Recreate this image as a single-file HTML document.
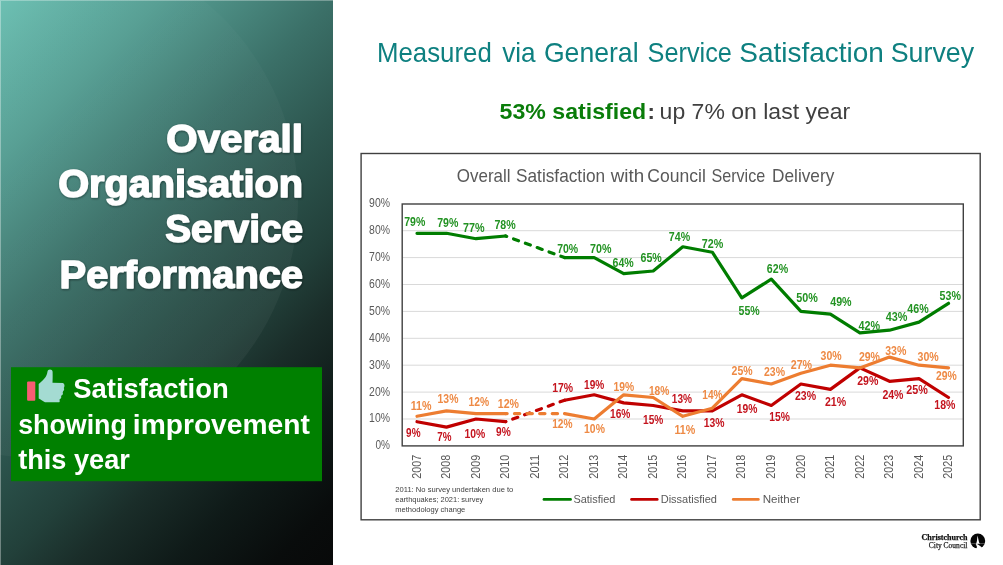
<!DOCTYPE html>
<html lang="en"><head><meta charset="utf-8"><title>Overall Organisation Service Performance</title>
<style>
html,body{margin:0;padding:0;background:#fff;}
body{width:1003px;height:565px;overflow:hidden;position:relative;font-family:"Liberation Sans",sans-serif;}
#panel{position:absolute;left:0;top:0;width:332.5px;height:565px;
 background:linear-gradient(135deg,#6dc0b3 0%,#569e93 18%,#3b7068 37%,#2d564f 50%,#22403a 63%,#1a2d29 71%,#0f1a18 82%,#090c0c 93%,#080909 100%);overflow:hidden;}
#panel .circ{position:absolute;left:-218px;top:-58px;width:516px;height:516px;border-radius:50%;background:linear-gradient(135deg,rgba(255,255,255,0) 25%,rgba(255,255,255,0.045) 85%);}
#panel .edge{position:absolute;left:0;top:0;right:0;bottom:0;border-left:1px solid rgba(255,255,255,.35);border-top:1px solid rgba(255,255,255,.3);}
svg{position:absolute;left:0;top:0;}
svg text{font-family:"Liberation Sans",sans-serif;}
.serif{font-family:"Liberation Serif",serif !important;}
</style></head><body>
<div id="panel"><div class="circ"></div><div class="edge"></div></div>
<svg width="1003" height="565" viewBox="0 0 1003 565">
<defs>
<filter id="sh" x="-10%" y="-20%" width="120%" height="150%"><feDropShadow dx="0.6" dy="0.9" stdDeviation="1.3" flood-color="#001511" flood-opacity="0.5"/></filter>
</defs>

<g filter="url(#sh)" fill="#fff" stroke="#fff" stroke-width="1.5" stroke-linejoin="round" font-weight="bold" font-size="39.0">
<text x="166.3" y="152.0" textLength="136.7" lengthAdjust="spacingAndGlyphs">Overall</text>
<text x="58.2" y="196.9" textLength="244.8" lengthAdjust="spacingAndGlyphs">Organisation</text>
<text x="165.2" y="242.2" textLength="137.8" lengthAdjust="spacingAndGlyphs">Service</text>
<text x="59.6" y="287.5" textLength="243.4" lengthAdjust="spacingAndGlyphs">Performance</text>
</g>
<rect x="11" y="367.2" width="311" height="114" fill="#008000"/>
<rect x="27.1" y="381.5" width="8.2" height="19.3" rx="1" fill="#f95c74"/>
<path d="M50 369.6 C48.6 369.6 47.7 370.4 47.5 371.6 C47.1 374 46.6 375.6 45.6 377 C44.2 379 42 381.4 38.7 384 L38.7 398.6 C40.6 399.6 42.6 401.2 45 402.3 L58.6 402.3 C59.6 402.3 60 401.4 59.6 400.4 L59.7 398.9 C61 398.6 61.6 397.6 61.1 396.4 L61.6 395.3 C62.8 394.8 63.3 393.6 62.7 392.4 L63.1 391.2 C64.2 390.4 64.5 389.2 63.8 388 C64.7 386.6 65 384.2 63 383 L52.5 382.8 C52.7 379.6 52.7 375.6 52.6 371.8 C52.5 370.4 51.4 369.6 50 369.6 Z" fill="#a4dbd2"/>
<g fill="#fff" font-weight="bold" font-size="26.8">
<text x="73.2" y="398.3" textLength="155.6" lengthAdjust="spacingAndGlyphs">Satisfaction</text>
<text x="18.2" y="434.0" textLength="108.6" lengthAdjust="spacingAndGlyphs">showing</text>
<text x="132.8" y="434.0" textLength="177.0" lengthAdjust="spacingAndGlyphs">improvement</text>
<text x="18.2" y="468.6" textLength="111.6" lengthAdjust="spacingAndGlyphs">this year</text>
</g>
<g font-size="27.2" fill="#0e8080">
<text x="377.0" y="62.4" textLength="114.8" lengthAdjust="spacingAndGlyphs">Measured</text>
<text x="502.2" y="62.4" textLength="33.4" lengthAdjust="spacingAndGlyphs">via</text>
<text x="543.9" y="62.4" textLength="94.7" lengthAdjust="spacingAndGlyphs">General</text>
<text x="647.6" y="62.4" textLength="84.3" lengthAdjust="spacingAndGlyphs">Service</text>
<text x="739.3" y="62.4" textLength="144.6" lengthAdjust="spacingAndGlyphs">Satisfaction</text>
<text x="890.7" y="62.4" textLength="83.4" lengthAdjust="spacingAndGlyphs">Survey</text>
</g>
<g font-size="22.8" fill="#404040">
<text x="499.6" y="119.4" font-weight="bold" fill="#0a7d0a" textLength="146.6" lengthAdjust="spacingAndGlyphs">53% satisfied</text>
<text x="647.4" y="119.4" font-weight="bold" textLength="7.4" lengthAdjust="spacingAndGlyphs">:</text>
<text x="659.6" y="119.4" textLength="190.6" lengthAdjust="spacingAndGlyphs">up 7% on last year</text>
</g>
<rect x="361.1" y="153.5" width="619.1" height="366.3" fill="#fff" stroke="#404040" stroke-width="1.4"/>
<g font-size="17.9" fill="#595959">
<text x="456.8" y="182.0" textLength="53.7" lengthAdjust="spacingAndGlyphs">Overall</text>
<text x="516.0" y="182.0" textLength="89.2" lengthAdjust="spacingAndGlyphs">Satisfaction</text>
<text x="610.7" y="182.0" textLength="33.4" lengthAdjust="spacingAndGlyphs">with</text>
<text x="647.3" y="182.0" textLength="58.5" lengthAdjust="spacingAndGlyphs">Council</text>
<text x="711.4" y="182.0" textLength="53.8" lengthAdjust="spacingAndGlyphs">Service</text>
<text x="772.1" y="182.0" textLength="62.2" lengthAdjust="spacingAndGlyphs">Delivery</text>
</g>
<line x1="402.2" y1="419.0" x2="963.3" y2="419.0" stroke="#d9d9d9" stroke-width="1"/>
<line x1="402.2" y1="392.1" x2="963.3" y2="392.1" stroke="#d9d9d9" stroke-width="1"/>
<line x1="402.2" y1="365.2" x2="963.3" y2="365.2" stroke="#d9d9d9" stroke-width="1"/>
<line x1="402.2" y1="338.3" x2="963.3" y2="338.3" stroke="#d9d9d9" stroke-width="1"/>
<line x1="402.2" y1="311.4" x2="963.3" y2="311.4" stroke="#d9d9d9" stroke-width="1"/>
<line x1="402.2" y1="284.5" x2="963.3" y2="284.5" stroke="#d9d9d9" stroke-width="1"/>
<line x1="402.2" y1="257.6" x2="963.3" y2="257.6" stroke="#d9d9d9" stroke-width="1"/>
<line x1="402.2" y1="230.7" x2="963.3" y2="230.7" stroke="#d9d9d9" stroke-width="1"/>
<text x="375.5" y="449.3" textLength="14.5" lengthAdjust="spacingAndGlyphs" font-size="11.9" fill="#595959">0%</text>
<text x="369.1" y="422.4" textLength="20.9" lengthAdjust="spacingAndGlyphs" font-size="11.9" fill="#595959">10%</text>
<text x="369.1" y="395.5" textLength="20.9" lengthAdjust="spacingAndGlyphs" font-size="11.9" fill="#595959">20%</text>
<text x="369.1" y="368.6" textLength="20.9" lengthAdjust="spacingAndGlyphs" font-size="11.9" fill="#595959">30%</text>
<text x="369.1" y="341.7" textLength="20.9" lengthAdjust="spacingAndGlyphs" font-size="11.9" fill="#595959">40%</text>
<text x="369.1" y="314.8" textLength="20.9" lengthAdjust="spacingAndGlyphs" font-size="11.9" fill="#595959">50%</text>
<text x="369.1" y="287.9" textLength="20.9" lengthAdjust="spacingAndGlyphs" font-size="11.9" fill="#595959">60%</text>
<text x="369.1" y="261.0" textLength="20.9" lengthAdjust="spacingAndGlyphs" font-size="11.9" fill="#595959">70%</text>
<text x="369.1" y="234.1" textLength="20.9" lengthAdjust="spacingAndGlyphs" font-size="11.9" fill="#595959">80%</text>
<text x="369.1" y="207.2" textLength="20.9" lengthAdjust="spacingAndGlyphs" font-size="11.9" fill="#595959">90%</text>
<polyline points="417.0,233.3 446.5,233.3 476.0,238.7 505.6,236.0" fill="none" stroke="#007d00" stroke-width="3.2" stroke-linecap="round" stroke-linejoin="round"/>
<line x1="505.6" y1="236.0" x2="564.6" y2="257.6" stroke="#007d00" stroke-width="3.2" stroke-linecap="round" stroke-dasharray="5.3 7.3" stroke-dashoffset="4.13"/>
<polyline points="564.6,257.6 594.2,257.6 623.7,273.7 653.2,271.0 682.8,246.8 712.3,252.2 741.8,297.9 771.3,279.1 800.9,311.4 830.4,314.1 859.9,332.9 889.5,330.2 919.0,322.1 948.5,303.3" fill="none" stroke="#007d00" stroke-width="3.2" stroke-linecap="round" stroke-linejoin="round"/>
<polyline points="417.0,421.7 446.5,427.1 476.0,419.0 505.6,421.7" fill="none" stroke="#c00000" stroke-width="3.2" stroke-linecap="round" stroke-linejoin="round"/>
<line x1="505.6" y1="421.7" x2="564.6" y2="400.2" stroke="#c00000" stroke-width="3.2" stroke-linecap="round" stroke-dasharray="5.3 7.3" stroke-dashoffset="4.98"/>
<polyline points="564.6,400.2 594.2,394.8 623.7,402.9 653.2,405.5 682.8,410.9 712.3,410.9 741.8,394.8 771.3,405.5 800.9,384.0 830.4,389.4 859.9,367.9 889.5,381.3 919.0,378.6 948.5,397.5" fill="none" stroke="#c00000" stroke-width="3.2" stroke-linecap="round" stroke-linejoin="round"/>
<polyline points="417.0,416.3 446.5,410.9 476.0,413.6 505.6,413.6" fill="none" stroke="#ed7d31" stroke-width="3.2" stroke-linecap="round" stroke-linejoin="round"/>
<line x1="505.6" y1="413.6" x2="564.6" y2="413.6" stroke="#ed7d31" stroke-width="3.2" stroke-linecap="round" stroke-dasharray="5.3 7.3" stroke-dashoffset="3.75"/>
<polyline points="564.6,413.6 594.2,419.0 623.7,394.8 653.2,397.5 682.8,416.3 712.3,408.2 741.8,378.6 771.3,384.0 800.9,373.3 830.4,365.2 859.9,367.9 889.5,357.1 919.0,365.2 948.5,367.9" fill="none" stroke="#ed7d31" stroke-width="3.2" stroke-linecap="round" stroke-linejoin="round"/>
<rect x="402.2" y="204.0" width="561.1" height="241.9" fill="none" stroke="#404040" stroke-width="1.4"/>
<text x="404.2" y="225.6" textLength="21.1" lengthAdjust="spacingAndGlyphs" font-size="12.0" font-weight="bold" fill="#239323">79%</text>
<text x="437.2" y="227.1" textLength="21.2" lengthAdjust="spacingAndGlyphs" font-size="12.0" font-weight="bold" fill="#239323">79%</text>
<text x="463.1" y="231.5" textLength="21.6" lengthAdjust="spacingAndGlyphs" font-size="12.0" font-weight="bold" fill="#239323">77%</text>
<text x="494.4" y="228.5" textLength="21.3" lengthAdjust="spacingAndGlyphs" font-size="12.0" font-weight="bold" fill="#239323">78%</text>
<text x="557.2" y="252.5" textLength="21.0" lengthAdjust="spacingAndGlyphs" font-size="12.0" font-weight="bold" fill="#239323">70%</text>
<text x="590.1" y="253.1" textLength="21.4" lengthAdjust="spacingAndGlyphs" font-size="12.0" font-weight="bold" fill="#239323">70%</text>
<text x="612.6" y="267.4" textLength="21.2" lengthAdjust="spacingAndGlyphs" font-size="12.0" font-weight="bold" fill="#239323">64%</text>
<text x="640.5" y="262.4" textLength="21.3" lengthAdjust="spacingAndGlyphs" font-size="12.0" font-weight="bold" fill="#239323">65%</text>
<text x="668.8" y="240.9" textLength="21.3" lengthAdjust="spacingAndGlyphs" font-size="12.0" font-weight="bold" fill="#239323">74%</text>
<text x="701.7" y="248.1" textLength="21.5" lengthAdjust="spacingAndGlyphs" font-size="12.0" font-weight="bold" fill="#239323">72%</text>
<text x="738.6" y="315.2" textLength="21.2" lengthAdjust="spacingAndGlyphs" font-size="12.0" font-weight="bold" fill="#239323">55%</text>
<text x="766.8" y="272.8" textLength="21.3" lengthAdjust="spacingAndGlyphs" font-size="12.0" font-weight="bold" fill="#239323">62%</text>
<text x="796.2" y="301.9" textLength="21.6" lengthAdjust="spacingAndGlyphs" font-size="12.0" font-weight="bold" fill="#239323">50%</text>
<text x="830.2" y="305.6" textLength="21.4" lengthAdjust="spacingAndGlyphs" font-size="12.0" font-weight="bold" fill="#239323">49%</text>
<text x="858.4" y="329.6" textLength="21.6" lengthAdjust="spacingAndGlyphs" font-size="12.0" font-weight="bold" fill="#239323">42%</text>
<text x="885.7" y="321.2" textLength="21.7" lengthAdjust="spacingAndGlyphs" font-size="12.0" font-weight="bold" fill="#239323">43%</text>
<text x="907.3" y="312.8" textLength="21.3" lengthAdjust="spacingAndGlyphs" font-size="12.0" font-weight="bold" fill="#239323">46%</text>
<text x="939.6" y="299.6" textLength="21.3" lengthAdjust="spacingAndGlyphs" font-size="12.0" font-weight="bold" fill="#239323">53%</text>
<text x="410.7" y="410.4" textLength="20.8" lengthAdjust="spacingAndGlyphs" font-size="12.0" font-weight="bold" fill="#ee8a45">11%</text>
<text x="437.6" y="403.4" textLength="20.8" lengthAdjust="spacingAndGlyphs" font-size="12.0" font-weight="bold" fill="#ee8a45">13%</text>
<text x="468.5" y="406.4" textLength="20.6" lengthAdjust="spacingAndGlyphs" font-size="12.0" font-weight="bold" fill="#ee8a45">12%</text>
<text x="497.8" y="408.4" textLength="21.2" lengthAdjust="spacingAndGlyphs" font-size="12.0" font-weight="bold" fill="#ee8a45">12%</text>
<text x="552.2" y="427.9" textLength="20.3" lengthAdjust="spacingAndGlyphs" font-size="12.0" font-weight="bold" fill="#ee8a45">12%</text>
<text x="584.1" y="433.4" textLength="20.8" lengthAdjust="spacingAndGlyphs" font-size="12.0" font-weight="bold" fill="#ee8a45">10%</text>
<text x="613.6" y="391.4" textLength="20.6" lengthAdjust="spacingAndGlyphs" font-size="12.0" font-weight="bold" fill="#ee8a45">19%</text>
<text x="648.9" y="394.9" textLength="20.4" lengthAdjust="spacingAndGlyphs" font-size="12.0" font-weight="bold" fill="#ee8a45">18%</text>
<text x="674.4" y="433.9" textLength="20.8" lengthAdjust="spacingAndGlyphs" font-size="12.0" font-weight="bold" fill="#ee8a45">11%</text>
<text x="702.3" y="399.4" textLength="20.2" lengthAdjust="spacingAndGlyphs" font-size="12.0" font-weight="bold" fill="#ee8a45">14%</text>
<text x="731.6" y="374.9" textLength="21.0" lengthAdjust="spacingAndGlyphs" font-size="12.0" font-weight="bold" fill="#ee8a45">25%</text>
<text x="764.0" y="375.9" textLength="21.0" lengthAdjust="spacingAndGlyphs" font-size="12.0" font-weight="bold" fill="#ee8a45">23%</text>
<text x="790.7" y="368.8" textLength="21.4" lengthAdjust="spacingAndGlyphs" font-size="12.0" font-weight="bold" fill="#ee8a45">27%</text>
<text x="820.6" y="360.4" textLength="21.1" lengthAdjust="spacingAndGlyphs" font-size="12.0" font-weight="bold" fill="#ee8a45">30%</text>
<text x="858.9" y="360.9" textLength="21.1" lengthAdjust="spacingAndGlyphs" font-size="12.0" font-weight="bold" fill="#ee8a45">29%</text>
<text x="885.2" y="354.9" textLength="21.2" lengthAdjust="spacingAndGlyphs" font-size="12.0" font-weight="bold" fill="#ee8a45">33%</text>
<text x="917.5" y="361.4" textLength="21.2" lengthAdjust="spacingAndGlyphs" font-size="12.0" font-weight="bold" fill="#ee8a45">30%</text>
<text x="936.0" y="380.1" textLength="20.8" lengthAdjust="spacingAndGlyphs" font-size="12.0" font-weight="bold" fill="#ee8a45">29%</text>
<text x="406.1" y="437.4" textLength="14.4" lengthAdjust="spacingAndGlyphs" font-size="12.0" font-weight="bold" fill="#c4141e">9%</text>
<text x="437.2" y="441.4" textLength="14.2" lengthAdjust="spacingAndGlyphs" font-size="12.0" font-weight="bold" fill="#c4141e">7%</text>
<text x="464.5" y="438.4" textLength="20.8" lengthAdjust="spacingAndGlyphs" font-size="12.0" font-weight="bold" fill="#c4141e">10%</text>
<text x="496.0" y="436.4" textLength="14.7" lengthAdjust="spacingAndGlyphs" font-size="12.0" font-weight="bold" fill="#c4141e">9%</text>
<text x="552.2" y="392.4" textLength="20.9" lengthAdjust="spacingAndGlyphs" font-size="12.0" font-weight="bold" fill="#c4141e">17%</text>
<text x="584.1" y="388.9" textLength="20.2" lengthAdjust="spacingAndGlyphs" font-size="12.0" font-weight="bold" fill="#c4141e">19%</text>
<text x="610.0" y="417.9" textLength="20.4" lengthAdjust="spacingAndGlyphs" font-size="12.0" font-weight="bold" fill="#c4141e">16%</text>
<text x="643.1" y="423.9" textLength="20.2" lengthAdjust="spacingAndGlyphs" font-size="12.0" font-weight="bold" fill="#c4141e">15%</text>
<text x="671.8" y="403.4" textLength="20.2" lengthAdjust="spacingAndGlyphs" font-size="12.0" font-weight="bold" fill="#c4141e">13%</text>
<text x="703.7" y="427.4" textLength="20.8" lengthAdjust="spacingAndGlyphs" font-size="12.0" font-weight="bold" fill="#c4141e">13%</text>
<text x="736.8" y="412.8" textLength="20.6" lengthAdjust="spacingAndGlyphs" font-size="12.0" font-weight="bold" fill="#c4141e">19%</text>
<text x="769.2" y="420.8" textLength="20.6" lengthAdjust="spacingAndGlyphs" font-size="12.0" font-weight="bold" fill="#c4141e">15%</text>
<text x="795.0" y="400.4" textLength="21.1" lengthAdjust="spacingAndGlyphs" font-size="12.0" font-weight="bold" fill="#c4141e">23%</text>
<text x="824.9" y="406.4" textLength="21.2" lengthAdjust="spacingAndGlyphs" font-size="12.0" font-weight="bold" fill="#c4141e">21%</text>
<text x="857.2" y="385.2" textLength="21.2" lengthAdjust="spacingAndGlyphs" font-size="12.0" font-weight="bold" fill="#c4141e">29%</text>
<text x="882.4" y="398.7" textLength="21.1" lengthAdjust="spacingAndGlyphs" font-size="12.0" font-weight="bold" fill="#c4141e">24%</text>
<text x="906.3" y="394.4" textLength="21.6" lengthAdjust="spacingAndGlyphs" font-size="12.0" font-weight="bold" fill="#c4141e">25%</text>
<text x="934.3" y="408.8" textLength="21.1" lengthAdjust="spacingAndGlyphs" font-size="12.0" font-weight="bold" fill="#c4141e">18%</text>
<text transform="translate(420.6,478.8) rotate(-90)" textLength="24.0" lengthAdjust="spacingAndGlyphs" font-size="13.0" fill="#595959">2007</text>
<text transform="translate(450.1,478.8) rotate(-90)" textLength="24.0" lengthAdjust="spacingAndGlyphs" font-size="13.0" fill="#595959">2008</text>
<text transform="translate(479.6,478.8) rotate(-90)" textLength="24.0" lengthAdjust="spacingAndGlyphs" font-size="13.0" fill="#595959">2009</text>
<text transform="translate(509.2,478.8) rotate(-90)" textLength="24.0" lengthAdjust="spacingAndGlyphs" font-size="13.0" fill="#595959">2010</text>
<text transform="translate(538.7,478.8) rotate(-90)" textLength="24.0" lengthAdjust="spacingAndGlyphs" font-size="13.0" fill="#595959">2011</text>
<text transform="translate(568.2,478.8) rotate(-90)" textLength="24.0" lengthAdjust="spacingAndGlyphs" font-size="13.0" fill="#595959">2012</text>
<text transform="translate(597.8,478.8) rotate(-90)" textLength="24.0" lengthAdjust="spacingAndGlyphs" font-size="13.0" fill="#595959">2013</text>
<text transform="translate(627.3,478.8) rotate(-90)" textLength="24.0" lengthAdjust="spacingAndGlyphs" font-size="13.0" fill="#595959">2014</text>
<text transform="translate(656.8,478.8) rotate(-90)" textLength="24.0" lengthAdjust="spacingAndGlyphs" font-size="13.0" fill="#595959">2015</text>
<text transform="translate(686.4,478.8) rotate(-90)" textLength="24.0" lengthAdjust="spacingAndGlyphs" font-size="13.0" fill="#595959">2016</text>
<text transform="translate(715.9,478.8) rotate(-90)" textLength="24.0" lengthAdjust="spacingAndGlyphs" font-size="13.0" fill="#595959">2017</text>
<text transform="translate(745.4,478.8) rotate(-90)" textLength="24.0" lengthAdjust="spacingAndGlyphs" font-size="13.0" fill="#595959">2018</text>
<text transform="translate(774.9,478.8) rotate(-90)" textLength="24.0" lengthAdjust="spacingAndGlyphs" font-size="13.0" fill="#595959">2019</text>
<text transform="translate(804.5,478.8) rotate(-90)" textLength="24.0" lengthAdjust="spacingAndGlyphs" font-size="13.0" fill="#595959">2020</text>
<text transform="translate(834.0,478.8) rotate(-90)" textLength="24.0" lengthAdjust="spacingAndGlyphs" font-size="13.0" fill="#595959">2021</text>
<text transform="translate(863.5,478.8) rotate(-90)" textLength="24.0" lengthAdjust="spacingAndGlyphs" font-size="13.0" fill="#595959">2022</text>
<text transform="translate(893.1,478.8) rotate(-90)" textLength="24.0" lengthAdjust="spacingAndGlyphs" font-size="13.0" fill="#595959">2023</text>
<text transform="translate(922.6,478.8) rotate(-90)" textLength="24.0" lengthAdjust="spacingAndGlyphs" font-size="13.0" fill="#595959">2024</text>
<text transform="translate(952.1,478.8) rotate(-90)" textLength="24.0" lengthAdjust="spacingAndGlyphs" font-size="13.0" fill="#595959">2025</text>
<g font-size="7.2" fill="#404040">
<text x="395.3" y="492.2" textLength="118.0" lengthAdjust="spacingAndGlyphs">2011: No survey undertaken due to</text>
<text x="395.3" y="501.9" textLength="88.0" lengthAdjust="spacingAndGlyphs">earthquakes; 2021: survey</text>
<text x="395.3" y="511.8" textLength="70.0" lengthAdjust="spacingAndGlyphs">methodology change</text>
</g>
<line x1="543.9" y1="499.4" x2="570.6" y2="499.4" stroke="#007d00" stroke-width="2.6" stroke-linecap="round"/>
<text x="573.4" y="503.3" textLength="41.9" lengthAdjust="spacingAndGlyphs" font-size="11.4" fill="#595959">Satisfied</text>
<line x1="631.5" y1="499.4" x2="657.3" y2="499.4" stroke="#c00000" stroke-width="2.6" stroke-linecap="round"/>
<text x="660.7" y="503.3" textLength="56.3" lengthAdjust="spacingAndGlyphs" font-size="11.4" fill="#595959">Dissatisfied</text>
<line x1="733.2" y1="499.4" x2="758.4" y2="499.4" stroke="#ed7d31" stroke-width="2.6" stroke-linecap="round"/>
<text x="762.7" y="503.3" textLength="37.4" lengthAdjust="spacingAndGlyphs" font-size="11.4" fill="#595959">Neither</text>
<text class="serif" x="921.5" y="540.4" textLength="46" lengthAdjust="spacingAndGlyphs" font-size="8.4" font-weight="bold" fill="#111" stroke="#111" stroke-width="0.25">Christchurch</text>
<text class="serif" x="928.8" y="547.5" textLength="38.6" lengthAdjust="spacingAndGlyphs" font-size="8.1" fill="#222" stroke="#222" stroke-width="0.25">City Council</text>
<circle cx="977.8" cy="540.9" r="7.4" fill="#050505"/>
<path d="M977.65 535.4 L978.3 539 L979.1 542.4 L980.1 543.5 L976.1 543.9 L976.9 541 L977.25 538 Z" fill="#fff"/>
<path d="M970.6 543.6 H985.2" stroke="#fff" stroke-opacity="0.6" stroke-width="0.5" fill="none"/>
<path d="M975.7 543.9 L977.65 544.3 L981.8 547.3 L980.6 548.9 L976.6 548.9 L976.9 546.5 Z" fill="#fff"/>
</svg></body></html>
